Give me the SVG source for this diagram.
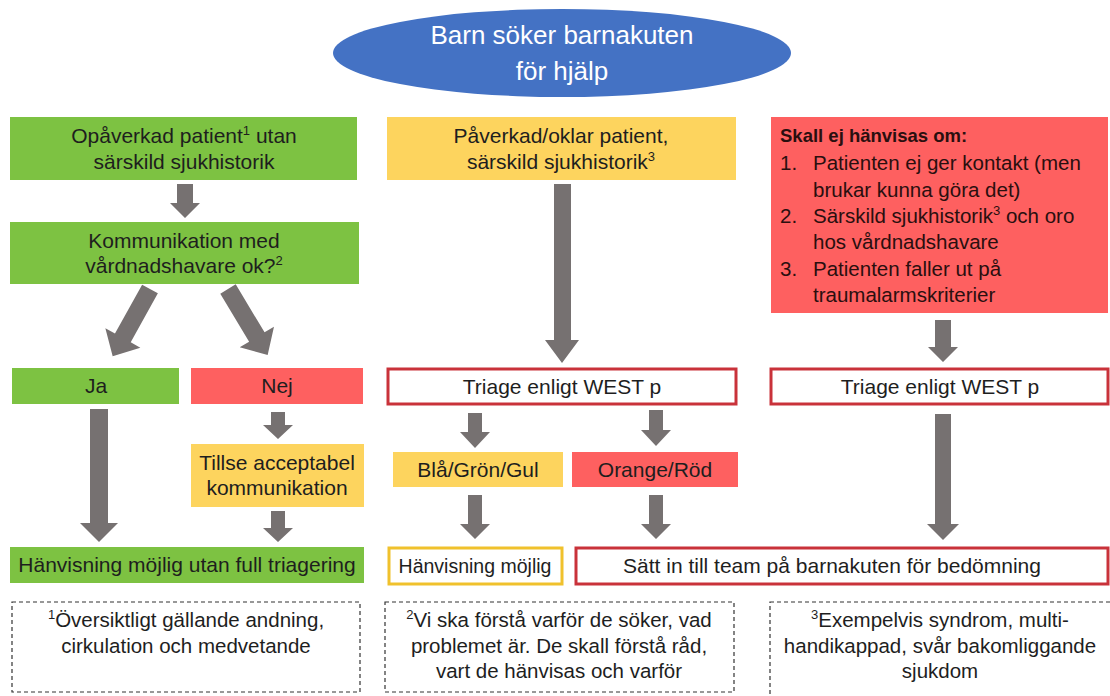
<svg xmlns="http://www.w3.org/2000/svg" width="1110" height="696" viewBox="0 0 1110 696">
<style>
.t{font-family:"Liberation Sans",Arial,sans-serif;font-size:21px;fill:#1e1e1e;text-anchor:middle}
.tl{font-family:"Liberation Sans",Arial,sans-serif;font-size:20.5px;fill:#2a0f0f}
.fn{font-family:"Liberation Sans",Arial,sans-serif;font-size:20.5px;fill:#1e1e1e;text-anchor:middle}
.g{fill:#7dc242}
.y{fill:#fdd45e}
.r{fill:#fe6060}
.ob{fill:#fff;stroke:#c9323a;stroke-width:3}
.oy{fill:#fff;stroke:#f0c12c;stroke-width:3}
.d{fill:#fff;stroke:#333;stroke-width:1.2;stroke-dasharray:4 3}
.a{fill:#767171}
</style>
<rect width="1110" height="696" fill="#fff"/>
<g id="start">
<ellipse cx="562" cy="53" rx="229" ry="44" fill="#4472c4"/>
<text class="t" x="562" y="44" style="fill:#fff;font-size:26px">Barn söker barnakuten</text>
<text class="t" x="562" y="80" style="fill:#fff;font-size:26px">för hjälp</text>
</g>
<g id="opaverkad">
<rect class="g" x="10" y="117" width="347" height="63"/>
<text class="t" x="184" y="143">Opåverkad patient<tspan font-size="13" dy="-8">1</tspan><tspan dy="8"> utan</tspan></text>
<text class="t" x="184" y="169">särskild sjukhistorik</text>
</g>
<g id="kommunikation">
<rect class="g" x="10" y="222" width="349" height="62"/>
<text class="t" x="184" y="248">Kommunikation med</text>
<text class="t" x="184" y="273">vårdnadshavare ok?<tspan font-size="13" dy="-8">2</tspan></text>
</g>
<g id="ja">
<rect class="g" x="12" y="368" width="167" height="36"/>
<text class="t" x="96" y="393">Ja</text>
</g>
<g id="nej">
<rect class="r" x="191" y="368" width="172" height="36"/>
<text class="t" x="277" y="393">Nej</text>
</g>
<g id="tillse">
<rect class="y" x="191" y="444" width="173" height="63"/>
<text class="t" x="277" y="470">Tillse acceptabel</text>
<text class="t" x="277" y="495">kommunikation</text>
</g>
<g id="hanvisning-full">
<rect class="g" x="10" y="547" width="354" height="36"/>
<text class="t" x="187" y="572">Hänvisning möjlig utan full triagering</text>
</g>
<g id="paverkad">
<rect class="y" x="387" y="117" width="349" height="63"/>
<text class="t" x="561" y="143">Påverkad/oklar patient,</text>
<text class="t" x="561" y="169">särskild sjukhistorik<tspan font-size="13" dy="-8">3</tspan></text>
</g>
<g id="triage-mid">
<rect class="ob" x="388" y="369" width="348" height="35"/>
<text class="t" x="562" y="394">Triage enligt WEST p</text>
</g>
<g id="bla">
<rect class="y" x="393" y="452" width="170" height="35"/>
<text class="t" x="478" y="477">Blå/Grön/Gul</text>
</g>
<g id="orange">
<rect class="r" x="572" y="452" width="166" height="35"/>
<text class="t" x="655" y="477">Orange/Röd</text>
</g>
<g id="hanvisning-mojlig">
<rect class="oy" x="389" y="548" width="173" height="36"/>
<text class="t" x="475" y="573" style="font-size:19.5px">Hänvisning möjlig</text>
</g>
<g id="satt-in">
<rect class="ob" x="576" y="548" width="532" height="36"/>
<text class="t" x="832" y="573">Sätt in till team på barnakuten för bedömning</text>
</g>
<g id="skall-ej">
<rect class="r" x="771" y="117" width="337" height="196"/>
<text class="tl" x="780" y="142" font-weight="bold" style="font-size:18.5px">Skall ej hänvisas om:</text>
<text class="tl" x="780" y="170">1.</text>
<text class="tl" x="813" y="170">Patienten ej ger kontakt (men</text>
<text class="tl" x="813" y="197">brukar kunna göra det)</text>
<text class="tl" x="780" y="223">2.</text>
<text class="tl" x="813" y="223">Särskild sjukhistorik<tspan font-size="13" dy="-8">3</tspan><tspan dy="8"> och oro</tspan></text>
<text class="tl" x="813" y="249">hos vårdnadshavare</text>
<text class="tl" x="780" y="276">3.</text>
<text class="tl" x="813" y="276">Patienten faller ut på</text>
<text class="tl" x="813" y="302">traumalarmskriterier</text>
</g>
<g id="triage-right">
<rect class="ob" x="771" y="369" width="337" height="35"/>
<text class="t" x="940" y="394">Triage enligt WEST p</text>
</g>
<g id="fot1">
<rect class="d" x="12" y="602" width="348" height="90"/>
<text class="fn" x="186" y="627"><tspan font-size="13" dy="-8">1</tspan><tspan dy="8">Översiktligt gällande andning,</tspan></text>
<text class="fn" x="186" y="653">cirkulation och medvetande</text>
</g>
<g id="fot2">
<rect class="d" x="385" y="602" width="349" height="90"/>
<text class="fn" x="559" y="627"><tspan font-size="13" dy="-8">2</tspan><tspan dy="8">Vi ska förstå varför de söker, vad</tspan></text>
<text class="fn" x="559" y="653">problemet är. De skall förstå råd,</text>
<text class="fn" x="559" y="678">vart de hänvisas och varför</text>
</g>
<g id="fot3">
<rect class="d" x="770" y="602" width="345" height="100"/>
<text class="fn" x="940" y="627"><tspan font-size="13" dy="-8">3</tspan><tspan dy="8">Exempelvis syndrom, multi-</tspan></text>
<text class="fn" x="940" y="653">handikappad, svår bakomliggande</text>
<text class="fn" x="940" y="678">sjukdom</text>
</g>
<g id="connectors">
<polygon class="a" points="177,184 193,184 193,203 200,203 185,218 170,203 177,203"/>
<polygon class="a" transform="translate(150,289) rotate(29)" points="-9,0 9,0 9,56 20,56 0,77 -20,56 -9,56"/>
<polygon class="a" transform="translate(228,289) rotate(-31)" points="-9,0 9,0 9,56 20,56 0,77 -20,56 -9,56"/>
<polygon class="a" points="90,409 108,409 108,523 118,523 99,542 80,523 90,523"/>
<polygon class="a" points="271,412 285,412 285,425 293,425 278,439 263,425 271,425"/>
<polygon class="a" points="271,511 285,511 285,528 293,528 278,542 263,528 271,528"/>
<polygon class="a" points="554,184 571,184 571,340 579,340 562,363 545,340 554,340"/>
<polygon class="a" points="468,413 482,413 482,432 490,432 475,448 460,432 468,432"/>
<polygon class="a" points="649,410 663,410 663,430 671,430 656,446 641,430 649,430"/>
<polygon class="a" points="468,495 482,495 482,524 490,524 475,539 460,524 468,524"/>
<polygon class="a" points="649,495 663,495 663,524 671,524 656,539 641,524 649,524"/>
<polygon class="a" points="935,320 951,320 951,347 958,347 943,362 928,347 935,347"/>
<polygon class="a" points="935,414 951,414 951,524 959,524 943,540 927,524 935,524"/>
</g>
</svg>
